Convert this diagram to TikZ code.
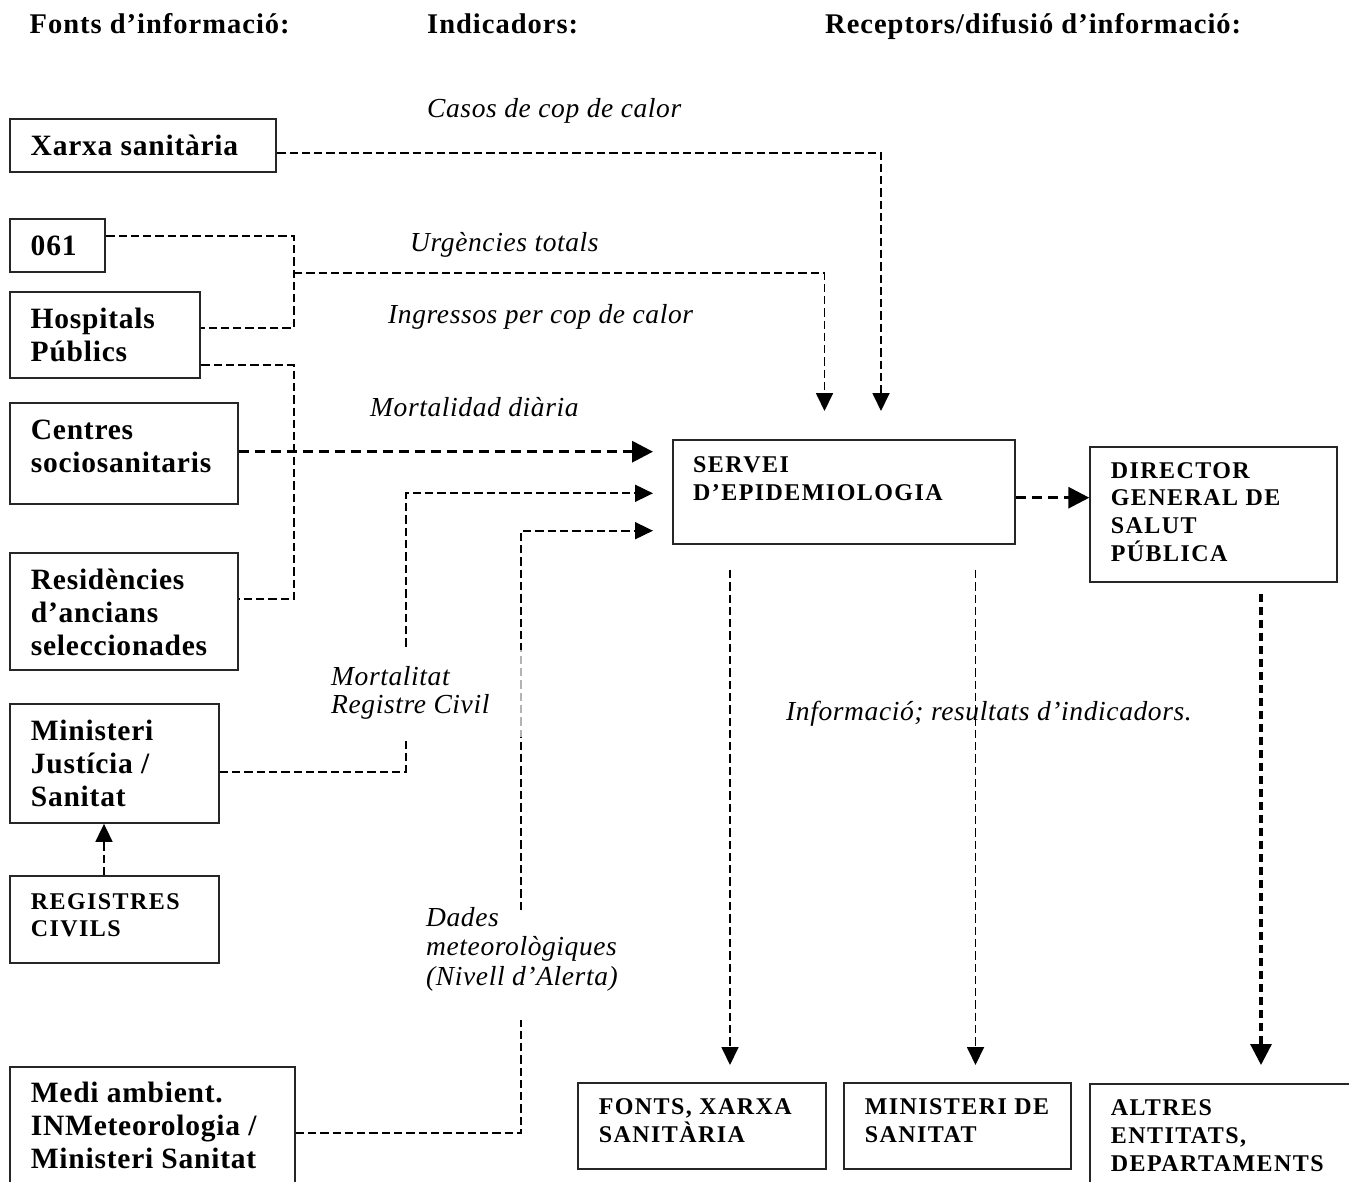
\documentclass[tikz,border=0pt]{standalone}
\usepackage{fontspec}
\setmainfont{Liberation Serif}
\newfontfamily\bigf[LetterSpace=2.6]{Liberation Serif}
\newfontfamily\smallf[LetterSpace=6]{Liberation Serif}
\newfontfamily\itf[LetterSpace=2.2]{Liberation Serif}
\newfontfamily\hdf[LetterSpace=3.5]{Liberation Serif}
\usetikzlibrary{arrows.meta}
\newcommand\boxtxt[4]{\parbox[t][#1][t]{#2}{\raggedright\leftskip=20.5pt\rule{0pt}{#3}#4}}
\newcommand\ml[1]{\parbox[t]{400pt}{\raggedright #1}}
\tikzset{
  bx/.style={draw=black!85, line width=1.9pt, anchor=north west, inner sep=0pt,
    font=\bigf\bfseries\fontsize{29.5}{33}\selectfont},
  bxs/.style={bx, font=\smallf\bfseries\fontsize{24}{27.7}\selectfont},
  lbl/.style={anchor=base west, inner sep=0pt, font=\itf\itshape\fontsize{27.5}{29}\selectfont},
  hd/.style={anchor=base west, inner sep=0pt, font=\hdf\bfseries\fontsize{28.5}{30}\selectfont},
  cn/.style={line width=1.8pt, dash pattern=on 8.3pt off 4pt},
  cnk/.style={line width=3.2pt, dash pattern=on 10pt off 6pt},
  cnkv/.style={line width=3.2pt, dash pattern=on 8.5pt off 4.5pt},
  tip/.style={-{Triangle[length=18pt,width=17pt]}},
  tipk/.style={-{Triangle[length=21pt,width=21pt]}},
}
\begin{document}
\begin{tikzpicture}[x=1pt,y=-1pt]
\useasboundingbox (0,0) rectangle (1349,1182);
\fill[white] (0,0) rectangle (1349,1182);

% headers
\node[hd] (h1) at (29.5,34) {Fonts d’informació:};
\node[hd] (h2) at (427,34) {Indicadors:};
\node[hd] (h3) at (825,34) {Receptors/difusió d’informació:};

% source boxes
\node[bx] (xarxa) at (9.3,118.3) {\boxtxt{52.7pt}{266pt}{36.7pt}{Xarxa sanitària}};
\node[bx] (n061) at (9.3,218.5) {\boxtxt{52.5pt}{95pt}{36.5pt}{061}};
\node[bx] (hosp) at (9.3,290.7) {\boxtxt{86.3pt}{190pt}{37pt}{Hospitals\\Públics}};
\node[bx] (centres) at (9.4,402) {\boxtxt{101pt}{227.2pt}{36.3pt}{Centres\\sociosanitaris}};
\node[bx] (resid) at (9.4,551.7) {\boxtxt{117.6pt}{227.2pt}{36.6pt}{Residències\\d’ancians\\seleccionades}};
\node[bx] (minist) at (9.4,703.3) {\boxtxt{118.7pt}{208.5pt}{36.7pt}{Ministeri\\Justícia /\\Sanitat}};
\node[bxs] (registres) at (9.4,875.3) {\boxtxt{86.5pt}{208.5pt}{33pt}{REGISTRES\\CIVILS}};
\node[bx] (medi) at (9.4,1065.7) {\boxtxt{140pt}{284.3pt}{36pt}{Medi ambient.\\INMeteorologia /\\Ministeri Sanitat}};

% central and receivers
\node[bxs] (servei) at (671.7,439) {\boxtxt{104.3pt}{342.3pt}{32.7pt}{SERVEI\\D’EPIDEMIOLOGIA}};
\node[bxs] (director) at (1089.3,445.7) {\boxtxt{135pt}{247pt}{31.6pt}{DIRECTOR\\GENERAL DE\\SALUT\\PÚBLICA}};
\node[bxs] (fonts) at (577.3,1081.7) {\boxtxt{86.3pt}{247.7pt}{32.3pt}{FONTS, XARXA\\SANITÀRIA}};
\node[bxs] (msan) at (843.3,1081.7) {\boxtxt{86.3pt}{226.7pt}{32.3pt}{MINISTERI DE\\SANITAT}};
\node[bxs] (altres) at (1089.4,1083) {\boxtxt{130pt}{270pt}{32pt}{ALTRES\\ENTITATS,\\DEPARTAMENTS}};

% labels
\node[lbl] (casos) at (427,118) {Casos de cop de calor};
\node[lbl] (urg) at (410,252) {Urgències totals};
\node[lbl] (ingr) at (388,323.3) {Ingressos per cop de calor};
\node[lbl] (mortd) at (370,416.7) {Mortalidad diària};
\node[lbl, font=\itf\itshape\fontsize{27.5}{28.3}\selectfont] (mortc) at (331,685) {\ml{Mortalitat\\Registre Civil}};
\node[lbl, font=\itf\itshape\fontsize{27.5}{29.5}\selectfont] (dades) at (426,926) {\ml{Dades\\meteorològiques\\(Nivell d’Alerta)}};
\node[lbl] (info) at (786,720) {Informació; resultats d’indicadors.};

% coordinates
\coordinate (b1) at (881,152.7);
\coordinate (b2) at (294,236);
\coordinate (b3) at (294,327.7);
\coordinate (j1) at (294,273);
\coordinate (b4) at (824.5,273);
\coordinate (b5) at (294,365);
\coordinate (b6) at (294,599.3);
\coordinate (b7) at (0,451.7);
\coordinate (b8) at (406.3,771.7);
\coordinate (g1) at (406.3,738.3);
\coordinate (g2) at (406.3,646.7);
\coordinate (b9) at (406.3,493.3);
\coordinate (b10) at (521,1133.3);
\coordinate (g3) at (521,1020);
\coordinate (g4) at (521,910);
\coordinate (b11) at (521,530.7);
\coordinate (b12) at (0,497.7);
\coordinate (d1) at (730,0);
\coordinate (d2) at (975.5,0);
\coordinate (d3) at (1261,0);
\coordinate (d4) at (104,0);

% connectors
\draw[cn,tip,shorten >=28pt] (xarxa.east |- b1) -- (b1) -- (b1 |- servei.north);
\draw[cn] (n061.east |- b2) -- (b2) -- (b3) -- (hosp.east |- b3);
\draw[cn,tip,shorten >=28pt] (j1) -- (b4) -- (b4 |- servei.north);
\draw[cn] (hosp.east |- b5) -- (b5) -- (b6) -- (resid.east |- b6);
\draw[cnk,tipk,shorten >=18.7pt] (centres.east |- b7) -- (servei.west |- b7);
\draw[cn] (minist.east |- b8) -- (b8) -- (g1);
\draw[cn,tip,shorten >=18.7pt] (g2) -- (b9) -- (servei.west |- b9);
\draw[cn] (medi.east |- b10) -- (b10) -- (g3);
\draw[cn,tip,shorten >=18.7pt] (g4) -- (b11) -- (servei.west |- b11);
\fill[white,opacity=0.7] (515,650) rectangle (527,737);
\draw[cnk,tipk] (servei.east |- b12) -- (director.west |- b12);
\draw[cn,tip,shorten <=24.7pt,shorten >=16.7pt] (servei.south -| d1) -- (fonts.north -| d1);
\draw[cn,tip,shorten <=24.7pt,shorten >=16.7pt] (servei.south -| d2) -- (msan.north -| d2);
\draw[cnkv,tipk,shorten <=11pt,shorten >=18pt] (director.south -| d3) -- (altres.north -| d3);
\draw[cn,tip] (registres.north -| d4) -- (minist.south -| d4);
\end{tikzpicture}
\end{document}
